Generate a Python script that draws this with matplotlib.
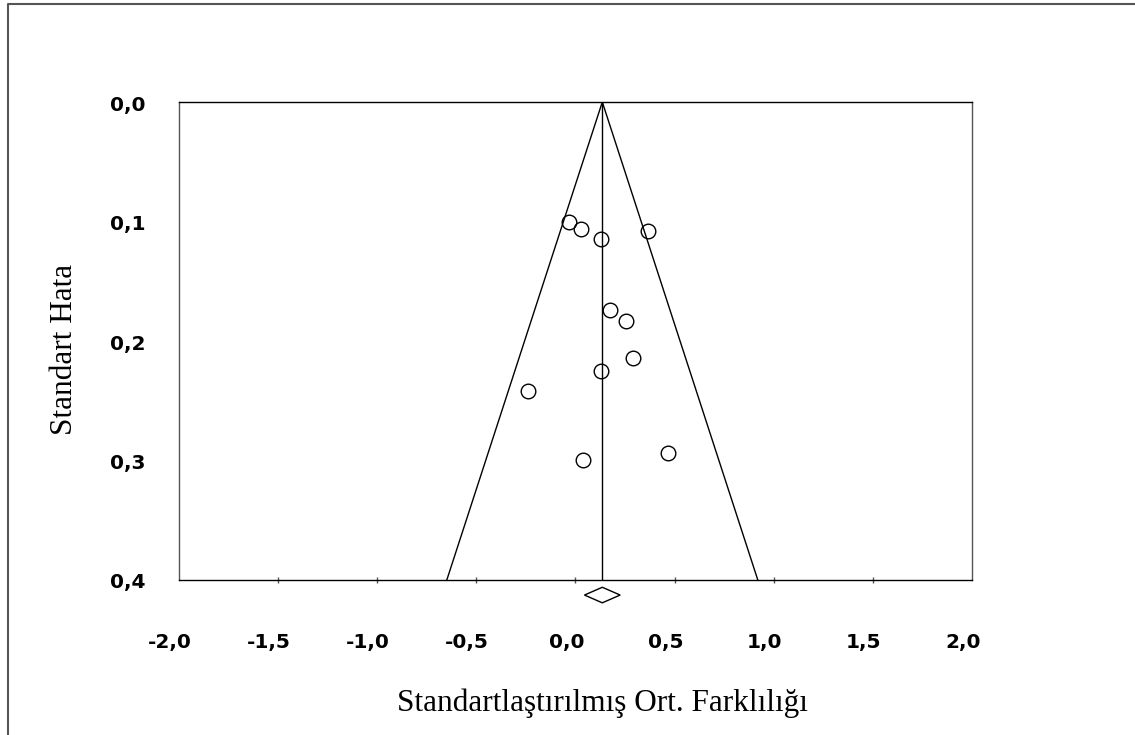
import numpy as np
import matplotlib.pyplot as plt
import matplotlib.transforms as mtransforms
from matplotlib.lines import Line2D
from matplotlib.patches import Polygon

# study effects (standardised mean difference) and their standard errors
effect = [-0.030, 0.027, 0.131, 0.368, 0.173, 0.256, 0.292, 0.128, -0.239, 0.040, 0.469]
stderr = [0.100, 0.106, 0.115, 0.108, 0.174, 0.183, 0.214, 0.225, 0.242, 0.300, 0.294]

pooled = 0.136
pooled_half_ci = 0.09

xticks = [-2.0, -1.5, -1.0, -0.5, 0.0, 0.5, 1.0, 1.5, 2.0]
yticks = [0.0, 0.1, 0.2, 0.3, 0.4]

def comma(v):
    return ('%.1f' % v).replace('.', ',')

fig = plt.figure(figsize=(11.35, 7.35), dpi=100)
ax = fig.add_axes([0.1574, 0.2109, 0.8564 - 0.1574, 0.8612 - 0.2109])

# funnel: pooled estimate +/- 1.96 SE
se_max = 0.4
ax.plot([pooled - 1.96 * se_max, pooled, pooled + 1.96 * se_max], [se_max, 0, se_max],
        color='black', lw=1.0)
ax.plot([pooled, pooled], [0, se_max], color='black', lw=1.0)

ax.plot(effect, stderr, 'o', ms=10.5, mfc='none', mec='black', mew=1.0, ls='none')

# pooled estimate diamond below the axis
dy = 0.0065
yc = 0.4126
diamond = Polygon([[pooled - pooled_half_ci, yc], [pooled, yc - dy],
                   [pooled + pooled_half_ci, yc], [pooled, yc + dy]],
                  closed=True, fill=False, edgecolor='black', lw=1.0, clip_on=False)
ax.add_patch(diamond)

ax.set_xlim(-2, 2)
ax.set_ylim(0.4, 0.0)
ax.set_xticks(xticks[1:-1])
ax.set_yticks(yticks)
ax.set_xticklabels([comma(v) for v in xticks[1:-1]])
ax.set_yticklabels([comma(v) for v in yticks])

ax.tick_params(axis='x', direction='inout', length=5, width=1, color='#555555', pad=36)
ax.tick_params(axis='y', length=0, pad=24)
for lab in ax.get_xticklabels() + ax.get_yticklabels():
    lab.set_fontfamily('DejaVu Sans')
    lab.set_fontweight('bold')
    lab.set_fontsize(14.5)

shift_x = mtransforms.ScaledTranslation(-9 / 100, 0, fig.dpi_scale_trans)
for lab in ax.get_xticklabels():
    lab.set_transform(lab.get_transform() + shift_x)
shift_y = mtransforms.ScaledTranslation(0, -1 / 100, fig.dpi_scale_trans)
for lab in ax.get_yticklabels():
    lab.set_transform(lab.get_transform() + shift_y)

# end labels sit on the corners, no tick mark there
for v in (xticks[0], xticks[-1]):
    ax.text(v, 0.4, comma(v), transform=ax.transData + shift_x,
            family='DejaVu Sans', fontweight='bold', fontsize=14.5,
            ha='center', va='top', clip_on=False)
for t in ax.texts:
    t.set_transform(t.get_transform() + mtransforms.ScaledTranslation(0, -(36 + 2.5) / 72, fig.dpi_scale_trans))

for side in ['top', 'bottom']:
    ax.spines[side].set_color('black')
    ax.spines[side].set_linewidth(1.0)
for side in ['left', 'right']:
    ax.spines[side].set_color('#555555')
    ax.spines[side].set_linewidth(1.0)

fig.text(602 / 1135, 1 - 703 / 735, 'Standartlaştırılmış Ort. Farklılığı',
         family='Liberation Serif', fontsize=22.5, ha='center', va='center')
fig.text(65 / 1135, 1 - 349 / 735, 'Standart Hata', family='Liberation Serif',
         fontsize=22.5, rotation=90, ha='center', va='center')

# outer frame
fig.add_artist(Line2D([8 / 1135, 8 / 1135, 1.0], [0.0, 1 - 4 / 735, 1 - 4 / 735],
                      transform=fig.transFigure, color='#555555', lw=1.5))

fig.savefig('out.png', dpi=100)
